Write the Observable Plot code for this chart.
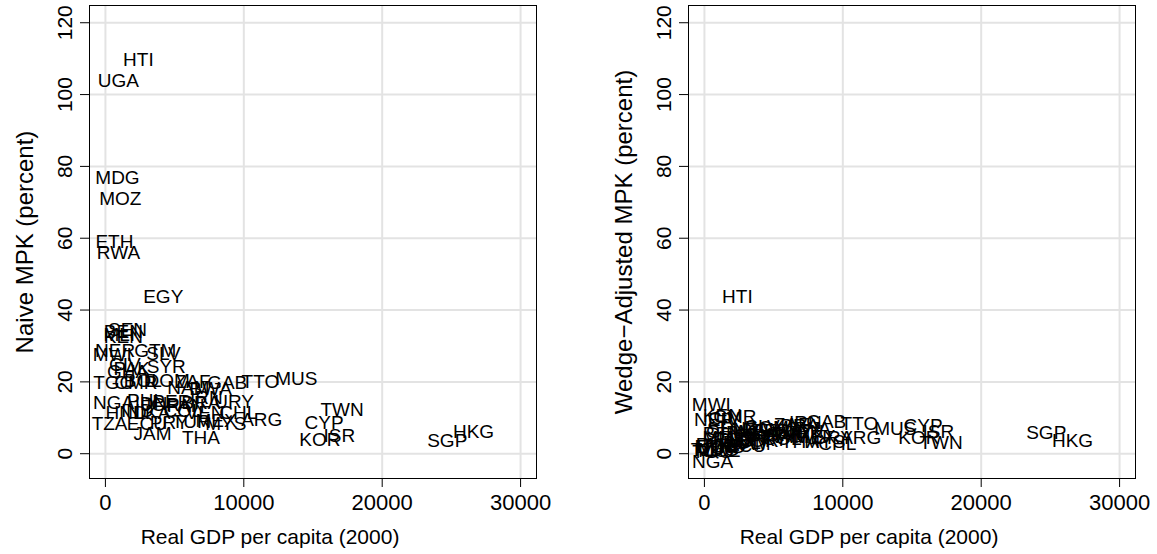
<!DOCTYPE html>
<html>
<head>
<meta charset="utf-8">
<script src="https://cdn.jsdelivr.net/npm/d3@7"></script>
<script src="https://cdn.jsdelivr.net/npm/@observablehq/plot@0.6"></script>
<style>
  html, body { margin: 0; padding: 0; background: #fff; }
  #wrap { position: relative; width: 1157px; height: 554px; display: flex; }
  #wrap svg { display: block; flex: none; }
</style>
</head>
<body>
<div id="wrap"></div>
<script>
const countries = ["HTI","UGA","MDG","MOZ","ETH","RWA","EGY","SEN","BEN","MLI","KEN","NER","MWI","GTM","SLV","CIV","PAK","GHA","SYR","TGO","CMR","BOL","DOM","ZAF","NAM","GAB","BWA","TTO","MUS","NGA","PHL","IDN","JOR","PER","PAN","BRA","IRN","URY","HND","IND","LKA","COL","VEN","CHL","TZA","ECU","PRY","TUR","MEX","MYS","ARG","JAM","THA","CYP","TWN","KOR","ISR","SGP","HKG"];
const gdp = [2380,940,870,1080,650,940,4180,1600,1300,1000,1300,700,500,3600,4200,1400,1900,1600,4400,600,2200,2700,4500,6300,6000,8800,7600,11200,13800,600,2900,3300,4000,4800,5800,6900,7300,9300,1500,2300,3400,5600,7200,9600,300,3000,4600,6200,8000,8700,11300,3400,6900,15800,17100,15500,16900,24700,26600];
const naiveMPK = [109.7,103.9,76.9,71.0,59.1,56.0,43.7,34.6,33.9,33.1,32.6,28.5,27.6,28.7,27.8,24.8,23.6,22.8,24.2,19.8,19.6,20.4,20.2,20.0,18.3,19.7,18.0,20.0,20.9,14.2,14.6,14.0,13.6,14.4,13.2,14.1,15.5,14.3,11.5,12.0,11.5,11.8,11.5,11.4,8.2,8.3,8.6,8.8,9.2,8.4,9.3,5.6,4.5,8.6,12.3,3.9,5.0,3.6,6.1];
const wedgeMPK = [43.7,1.5,1.0,0.8,1.8,2.5,6.5,7.0,5.5,4.5,10.5,9.5,13.6,5.0,7.5,9.8,4.0,6.0,5.3,0.4,10.2,3.0,7.2,8.0,4.8,8.8,6.8,8.4,7.0,-2.3,5.8,4.2,3.5,6.3,5.0,7.8,8.6,4.3,2.0,3.2,6.7,4.1,6.0,2.7,1.2,2.2,3.9,5.4,4.6,3.4,4.5,2.8,3.3,7.8,3.1,4.4,6.1,5.9,3.6];
const xTicks = [0, 10000, 20000, 30000];
const yTicks = [0, 20, 40, 60, 80, 100, 120];
const xTitle = "Real GDP per capita (2000)";
const yTitles = ["Naive MPK (percent)", "Wedge\u2212Adjusted MPK (percent)"];

const rows = countries.map((c, i) => ({code: c, gdp: gdp[i], naive: naiveMPK[i], wedge: wedgeMPK[i]}));

function panel(yKey, yTitle, width, marginRight) {
  return Plot.plot({
    width, height: 554,
    marginLeft: 89, marginRight, marginTop: 5, marginBottom: 76,
    style: {fontFamily: "'Liberation Sans', Arial, Helvetica, sans-serif", background: "white", color: "black", overflow: "visible"},
    x: {domain: [-1150, 31150], axis: null},
    y: {domain: [-6.9, 124.8], axis: null},
    marks: [
      Plot.gridX(xTicks, {stroke: "#e3e3e3", strokeOpacity: 1, strokeWidth: 2}),
      Plot.gridY(yTicks, {stroke: "#e3e3e3", strokeOpacity: 1, strokeWidth: 2}),
      Plot.frame({stroke: "black", strokeWidth: 1}),
      Plot.axisX(xTicks, {tickSize: 9, tickFormat: () => "", label: null, stroke: "black"}),
      Plot.axisY(yTicks, {tickSize: 9, tickFormat: () => "", label: null, stroke: "black"}),
      Plot.text(xTicks, {x: d => d, text: d => String(d), frameAnchor: "bottom", textAnchor: "middle", lineAnchor: "middle", dy: 24, fontSize: 22, fill: "black"}),
      Plot.text(yTicks, {y: d => d, text: d => String(d), frameAnchor: "left", textAnchor: "middle", lineAnchor: "middle", dx: -24, rotate: -90, fontSize: 21, fill: "black"}),
      Plot.text([xTitle], {text: d => d, frameAnchor: "bottom", textAnchor: "middle", lineAnchor: "middle", dx: -43, dy: 59, fontSize: 21, fill: "black"}),
      Plot.text([yTitle], {text: d => d, frameAnchor: "left", textAnchor: "middle", lineAnchor: "middle", dx: -64, rotate: -90, fontSize: 24, fill: "black"}),
      Plot.text(rows, {x: "gdp", y: yKey, text: "code", fontSize: 19, fill: "black"})
    ]
  });
}

const wrap = document.getElementById("wrap");
wrap.appendChild(panel("naive", yTitles[0], 599, 63));
wrap.appendChild(panel("wedge", yTitles[1], 558, 22));
</script>
</body>
</html>
